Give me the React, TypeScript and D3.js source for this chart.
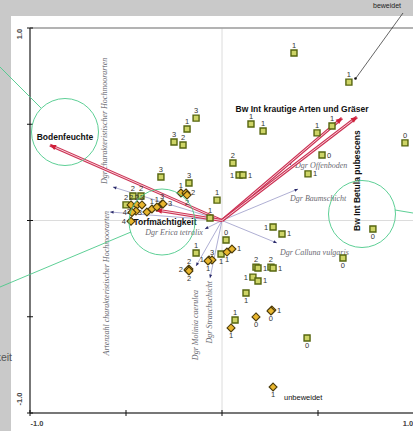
import React from "react";
import * as d3 from "d3";

// Site scores: [axis 1, axis 2, grazing-intensity class label, label side]
const squareSites: [number, number, string, string][] = [
  [0.375, 0.87, "1", "t"],
  [0.661, 0.719, "1", "t"],
  [-0.135, 0.532, "3", "t"],
  [-0.182, 0.475, "1", "t"],
  [-0.25, 0.408, "3", "t"],
  [-0.203, 0.392, "2", "t"],
  [-0.318, 0.226, "3", "t"],
  [-0.172, 0.195, "3", "t"],
  [-0.026, 0.106, "1", "t"],
  [-0.0625, 0.013, "1", "t"],
  [0.151, 0.501, "1", "t"],
  [0.214, 0.465, "1", "t"],
  [0.495, 0.455, "1", "t"],
  [0.573, 0.491, "1", "t"],
  [0.057, 0.299, "2", "t"],
  [0.089, 0.236, "1", "l"],
  [0.109, 0.236, "1", "r"],
  [0.521, 0.34, "0", "r"],
  [0.448, 0.242, "1", "r"],
  [0.953, 0.403, "0", "t"],
  [0.786, -0.044, "0", "b"],
  [0.63, -0.195, "0", "b"],
  [0.266, -0.034, "1", "l"],
  [0.3125, -0.07, "1", "r"],
  [0.021, -0.101, "0", "t"],
  [-0.135, -0.169, "1", "t"],
  [-0.005, -0.174, "1", "b"],
  [0.177, -0.242, "2", "t"],
  [0.1875, -0.247, "1", "r"],
  [0.255, -0.242, "2", "t"],
  [0.266, -0.247, "1", "r"],
  [0.161, -0.294, "1", "l"],
  [0.1875, -0.314, "1", "r"],
  [0.125, -0.377, "1", "b"],
  [0.068, -0.517, "1", "t"],
  [0.443, -0.61, "0", "b"],
  [-0.464, 0.127, "2", "t"],
  [-0.422, 0.127, "2", "t"],
  [-0.5, 0.081, "2", "t"],
];

const diamondSites: [number, number, string, string][] = [
  [-0.214, 0.143, "1", "t"],
  [-0.1875, 0.143, "2", "r"],
  [-0.182, 0.132, "2", "b"],
  [-0.312, 0.086, "3", "t"],
  [-0.307, 0.086, "3", "r"],
  [-0.391, 0.044, "3", "l"],
  [-0.365, 0.06, "1", "t"],
  [-0.339, 0.07, "1", "t"],
  [-0.474, 0.081, "2", "t"],
  [-0.443, 0.081, "2", "t"],
  [-0.417, 0.081, "3", "t"],
  [-0.448, 0.049, "3", "l"],
  [-0.469, 0.042, "4", "l"],
  [-0.474, -0.004, "4", "l"],
  [-0.068, -0.205, "1", "l"],
  [-0.052, -0.205, "3", "t"],
  [-0.073, -0.21, "1", "b"],
  [0.026, -0.164, "1", "b"],
  [0.052, -0.148, "1", "r"],
  [-0.172, -0.252, "2", "t"],
  [-0.177, -0.257, "2", "l"],
  [-0.172, -0.262, "2", "b"],
  [0.177, -0.501, "0", "b"],
  [0.26, -0.465, "1", "r"],
  [0.255, -0.47, "0", "b"],
  [0.047, -0.558, "1", "b"],
  [0.266, -0.865, "1", "b"],
];

// Explanatory variables fitted as vectors (axis 1, axis 2)
const mainVectors: [string, number, number][] = [
  ["Bodenfeuchte", -0.896, 0.392],
  ["Torfmächtigkeit", -0.344, 0.055],
  ["Bw Int krautige Arten und Gräser", 0.625, 0.532],
  ["Bw Int Betula pubescens", 0.703, 0.538],
];

const minorVectors: [string, number, number][] = [
  ["Dgr Offenboden", 0.365, 0.305],
  ["Dgr Baumschicht", 0.396, 0.164],
  ["Dgr Calluna vulgaris", 0.286, -0.117],
  ["Dgr Erica tetralix", -0.089, -0.044],
  ["Dgr Molinia caerulea", -0.135, -0.236],
  ["Dgr Strauchschicht", -0.0625, -0.299],
  ["Dgr charakteristischer Hochmoorarten", -0.568, 0.174],
  ["Artenzahl charakteristischer Hochmoorarten", -0.583, 0.044],
];

const tickValues = [-1, -0.5, 0, 0.5, 1];
const endTickLabels = ["-1.0", "1.0"];

// Label placement relative to vector tips: [dx, dy, anchor, rotate]
const vectorLabelLayout: Record<string, [number, number, string, number]> = {
  Bodenfeuchte: [15, -5, "middle", 0],
  "Torfmächtigkeit": [9, 15, "middle", 0],
  "Bw Int krautige Arten und Gräser": [-40, -6, "middle", 0],
  "Bw Int Betula pubescens": [3, 114, "start", -90],
  "Dgr Offenboden": [3, 6, "start", 0],
  "Dgr Baumschicht": [-8, 12, "start", 0],
  "Dgr Calluna vulgaris": [3, 12, "start", 0],
  "Dgr Erica tetralix": [-2, 6, "end", 0],
  "Dgr Molinia caerulea": [2, 24, "end", -90],
  "Dgr Strauchschicht": [2, 3, "end", -90],
  "Dgr charakteristischer Hochmoorarten": [-6, -3, "start", -90],
  "Artenzahl charakteristischer Hochmoorarten": [-1, -1, "end", -90],
};

const W = 413;
const H = 431;

export default function App() {
  const x = d3.scaleLinear().domain([-1, 1]).range([30, 414]);
  const y = d3.scaleLinear().domain([-1, 1]).range([413, 28]);
  const x0 = x(0);
  const y0 = y(0);

  const labelPos = (px: number, py: number, side: string) => {
    if (side === "t") return { lx: px, ly: py - 5, anchor: "middle" };
    if (side === "b") return { lx: px, ly: py + 10, anchor: "middle" };
    if (side === "l") return { lx: px - 5, ly: py + 2.5, anchor: "end" };
    return { lx: px + 5, ly: py + 2.5, anchor: "start" };
  };

  const diamond = d3.symbol().type(d3.symbolDiamond2).size(40)();
  const square = d3.symbol().type(d3.symbolSquare).size(36)();

  const arrowHead = (x1: number, y1: number, len: number, wid: number) => {
    const ang = Math.atan2(y1 - y0, x1 - x0);
    const bx = x1 - len * Math.cos(ang);
    const by = y1 - len * Math.sin(ang);
    const nx = -Math.sin(ang) * wid;
    const ny = Math.cos(ang) * wid;
    return `M${x1},${y1}L${bx + nx},${by + ny}L${bx - nx},${by - ny}Z`;
  };

  return (
    <svg
      width={W}
      height={H}
      style={{ position: "fixed", left: 0, top: 0, display: "block" }}
      fontFamily="Liberation Sans, Arial, sans-serif"
    >
      <rect width={W} height={H} fill="#c9c9c9" />
      <rect x={11} y={16} width={W - 11} height={H - 16} fill="#ffffff" />

      {/* neighbouring panel text */}
      <text x={373} y={8} fontSize={7} fill="#222">beweidet</text>
      <text x={12} y={361} fontSize={10.5} fill="#555" textAnchor="end">Torfmächtigkeit</text>

      {/* zero lines */}
      <line x1={x0} x2={x0} y1={28} y2={413} stroke="#dcdcdc" strokeWidth={1} />
      <line x1={30} x2={W} y1={y0} y2={y0} stroke="#dcdcdc" strokeWidth={1} />

      {/* frame */}
      <line x1={30} x2={W} y1={28} y2={28} stroke="#9a9a9a" strokeWidth={1.5} />
      <line x1={30} x2={30} y1={28} y2={413} stroke="#777" strokeWidth={2} />
      <line x1={30} x2={W} y1={413} y2={413} stroke="#777" strokeWidth={2} />
      {tickValues.map((t) => (
        <g key={"t" + t}>
          <line x1={27} x2={33} y1={y(t)} y2={y(t)} stroke="#111" strokeWidth={1} />
          <line x1={x(t)} x2={x(t)} y1={410} y2={416} stroke="#111" strokeWidth={1} />
        </g>
      ))}
      {endTickLabels.map((lab, i) => {
        const v = i === 0 ? -1 : 1;
        return (
          <g key={lab} fontSize={7.5} fontWeight="bold" fill="#444">
            <text
              transform={`translate(22,${v === 1 ? y(v) + 6 : y(v) - 14}) rotate(-90)`}
              textAnchor="middle"
            >
              {lab}
            </text>
            <text x={v === 1 ? x(v) - 6 : x(v) + 7} y={426} textAnchor="middle">
              {lab}
            </text>
          </g>
        );
      })}

      {/* minor vectors */}
      {minorVectors.map(([name, vx, vy]) => {
        const px = x(vx);
        const py = y(vy);
        const [dx, dy, anchor, rot] = vectorLabelLayout[name];
        return (
          <g key={name}>
            <line x1={x0} y1={y0} x2={px} y2={py} stroke="#9a9ac8" strokeWidth={0.8} />
            <path d={arrowHead(px, py, 3.5, 1.5)} fill="#2a2a6a" />
            <text
              transform={`translate(${px + dx},${py + dy}) rotate(${rot})`}
              textAnchor={anchor}
              fontFamily="Liberation Serif, Times New Roman, serif"
              fontStyle="italic"
              fontSize={8}
              fill="#6a6a72"
            >
              {name}
            </text>
          </g>
        );
      })}

      {/* main vectors */}
      {mainVectors.map(([name, vx, vy]) => {
        const px = x(vx);
        const py = y(vy);
        return (
          <g key={name}>
            <line x1={x0} y1={y0} x2={px} y2={py} stroke="#cc3355" strokeWidth={3} />
            <line x1={x0} y1={y0} x2={px} y2={py} stroke="#f7d0d8" strokeWidth={1} />
            <path d={arrowHead(px, py, 6, 2.8)} fill="#d0203a" />
          </g>
        );
      })}

      {/* site scores */}
      {squareSites.map(([sx, sy, lab, side], i) => {
        const px = x(sx);
        const py = y(sy);
        const l = labelPos(px, py, side);
        return (
          <g key={"s" + i}>
            <path
              d={square}
              transform={`translate(${px},${py})`}
              fill="#cdd466"
              stroke="#56650f"
              strokeWidth={1.4}
            />
            <text x={l.lx} y={l.ly} textAnchor={l.anchor} fontSize={7.5} fill="#333">
              {lab}
            </text>
          </g>
        );
      })}
      {diamondSites.map(([sx, sy, lab, side], i) => {
        const px = x(sx);
        const py = y(sy);
        const l = labelPos(px, py, side);
        return (
          <g key={"d" + i}>
            <path
              d={diamond}
              transform={`translate(${px},${py})`}
              fill="#e9b62e"
              stroke="#4a3a0a"
              strokeWidth={1.1}
            />
            <text x={l.lx} y={l.ly} textAnchor={l.anchor} fontSize={7.5} fill="#333">
              {lab}
            </text>
          </g>
        );
      })}

      {/* bold vector labels */}
      {mainVectors.map(([name, vx, vy]) => {
        const [dx, dy, anchor, rot] = vectorLabelLayout[name];
        return (
          <text
            key={"l" + name}
            transform={`translate(${x(vx) + dx},${y(vy) + dy}) rotate(${rot})`}
            textAnchor={anchor}
            fontSize={8.5}
            fontWeight="bold"
            fill="#111"
          >
            {name}
          </text>
        );
      })}

      <text x={284} y={400} fontSize={7.5} fill="#111">unbeweidet</text>

      {/* callouts */}
      <g fill="none" stroke="#4cc98a" strokeWidth={0.9}>
        <circle cx={65} cy={132} r={33.5} />
        <circle cx={162} cy={222} r={33} />
        <circle cx={362} cy={214} r={33.5} />
        <line x1={0} y1={67} x2={41} y2={108} />
        <line x1={0} y1={287} x2={131} y2={232} />
        <line x1={395} y1={210} x2={W} y2={213} />
      </g>
      <line x1={403} y1={13} x2={356} y2={78} stroke="#222" strokeWidth={0.7} />
      <circle cx={355.5} cy={78.5} r={1.3} fill="#111" />
    </svg>
  );
}
